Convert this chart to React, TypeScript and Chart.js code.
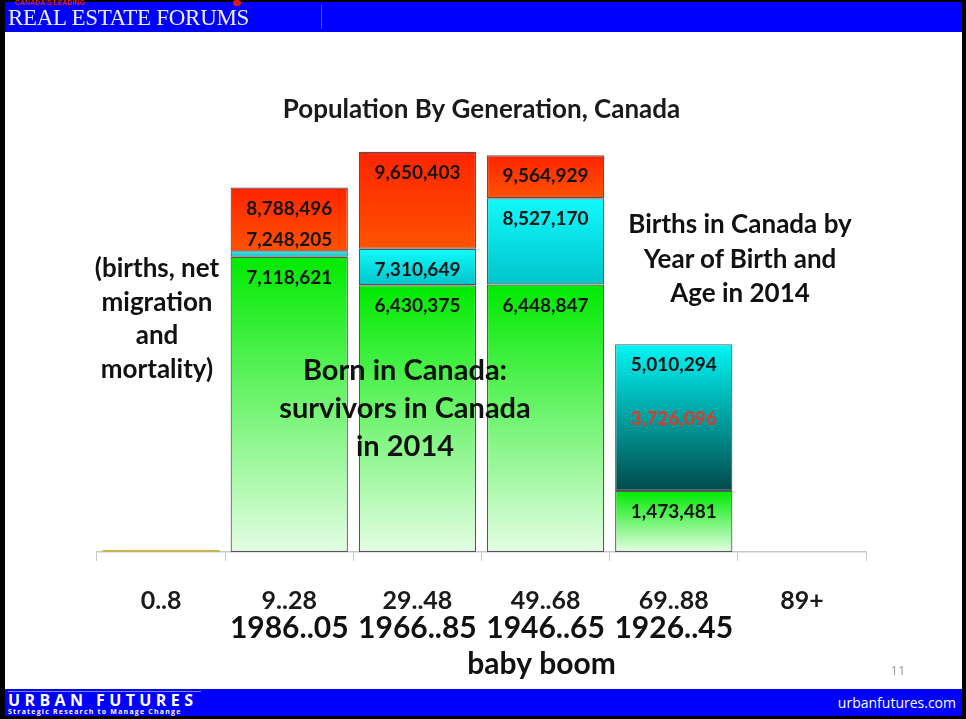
import React, { useEffect, useRef } from "react";
import { Chart, registerables } from "chart.js";

Chart.register(...registerables);

const categories = ["0..8", "9..28", "29..48", "49..68", "69..88", "89+"];
const birthYears = ["", "1986..05", "1966..85", "1946..65", "1926..45", ""];
const youngest = [50000, null, null, null, null, null];
const survivors = [null, 7118621, 6430375, 6448847, 1473481, null];
const population2014 = [null, 7248205, 7310649, 8527170, 5010294, null];
const births = [null, 8788496, 9650403, 9564929, 3726096, null];

const FONT = "Lato, 'Open Sans', sans-serif";

const cyanSeg = population2014.map((p, i) =>
  p == null || survivors[i] == null ? null : p - (survivors[i] as number)
);
const redSeg = births.map((b, i) => {
  const p = population2014[i];
  if (b == null || p == null) return null;
  return b > p ? b - p : null;
});

function segGradient(context: any, lowArr: (number | null)[], highArr: (number | null)[], top: string, bottom: string, fallback: string) {
  const chart = context.chart;
  const y = chart.scales && chart.scales.y;
  const i = context.dataIndex;
  if (!chart.chartArea || !y || i == null) return fallback;
  const lo = lowArr[i] ?? 0;
  const hi = highArr[i];
  if (hi == null) return fallback;
  const yTop = y.getPixelForValue(hi);
  const yBot = y.getPixelForValue(lo);
  if (!isFinite(yTop) || !isFinite(yBot) || yTop === yBot) return fallback;
  const g = chart.ctx.createLinearGradient(0, yTop, 0, yBot);
  g.addColorStop(0, top);
  g.addColorStop(1, bottom);
  return g;
}

const zeros = categories.map(() => 0);

const labelPlugin = {
  id: "segLabels",
  afterDatasetsDraw(chart: any) {
    const x = chart.scales.x;
    const y = chart.scales.y;
    const ctx = chart.ctx;
    ctx.save();
    ctx.font = `bold 19px ${FONT}`;
    ctx.textAlign = "center";
    ctx.textBaseline = "middle";
    categories.forEach((_, i) => {
      const items: { v: number; color: string }[] = [];
      const b = births[i], p = population2014[i], s = survivors[i];
      if (b != null) items.push({ v: b, color: p != null && b < p ? "#e0392a" : "#141414" });
      if (p != null) items.push({ v: p, color: "#141414" });
      if (s != null) items.push({ v: s, color: "#141414" });
      items.sort((a, c) => c.v - a.v);
      const pos: number[] = new Array(items.length);
      for (let k = items.length - 1; k >= 0; k--) {
        const py = y.getPixelForValue(items[k].v);
        let ty = py + 21;
        if (k < items.length - 1 && pos[k + 1] - ty < 22) ty = py - 11;
        pos[k] = ty;
      }
      const cx = x.getPixelForValue(i);
      items.forEach((it, k) => {
        ctx.fillStyle = it.color;
        ctx.fillText(it.v.toLocaleString("en-US"), cx, pos[k]);
      });
    });
    ctx.restore();
  },
  afterDraw(chart: any) {
    const x = chart.scales.x;
    const ctx = chart.ctx;
    const base = chart.chartArea.bottom;
    ctx.save();
    ctx.fillStyle = "#111";
    ctx.textAlign = "center";
    ctx.textBaseline = "middle";
    ctx.font = `bold 30px ${FONT}`;
    birthYears.forEach((t, i) => {
      if (t) ctx.fillText(t, x.getPixelForValue(i), base + 76);
    });
    ctx.fillText("baby boom", x.getPixelForValue(3) - 4, base + 112);
    ctx.restore();
  },
};

function ChartCanvas() {
  const ref = useRef<HTMLCanvasElement | null>(null);
  useEffect(() => {
    if (!ref.current) return;
    const chart = new Chart(ref.current, {
      type: "bar",
      data: {
        labels: categories,
        datasets: [
          {
            label: "Under 9",
            data: youngest,
            backgroundColor: "#c9b64a",
            borderWidth: 0,
            stack: "s",
          },
          {
            label: "Born in Canada: survivors in Canada in 2014",
            data: survivors,
            backgroundColor: (c: any) => segGradient(c, zeros, survivors, "#00ea00", "#e4fde4", "#40ee40"),
            borderColor: "#555555",
            borderWidth: 1.2,
            borderSkipped: false,
            stack: "s",
          },
          {
            label: "Population in 2014",
            data: cyanSeg,
            backgroundColor: (c: any) => {
              const i = c.dataIndex;
              const b = births[i], p = population2014[i];
              if (b != null && p != null && b < p)
                return segGradient(c, survivors, population2014, "#00f6f6", "#024a4a", "#0a9a9a");
              return segGradient(c, survivors, population2014, "#10fafa", "#00c4cc", "#00e6ec");
            },
            borderColor: "#555555",
            borderWidth: 1.2,
            borderSkipped: false,
            stack: "s",
          },
          {
            label: "Births",
            data: redSeg,
            backgroundColor: (c: any) => segGradient(c, population2014, births, "#ff2400", "#ff5200", "#ff3a00"),
            borderColor: "#555555",
            borderWidth: 1.2,
            borderSkipped: false,
            stack: "s",
          },
        ],
      },
      options: {
        responsive: false,
        animation: false,
        devicePixelRatio: 1,
        layout: { padding: { left: 97, right: 100, top: 78, bottom: 78 } },
        datasets: { bar: { categoryPercentage: 1, barPercentage: 0.915 } },
        plugins: {
          legend: { display: false },
          tooltip: { enabled: false },
          title: {
            display: true,
            text: "Population By Generation, Canada",
            color: "#1a1a1a",
            font: { family: FONT, size: 26, weight: "bold" },
            padding: { top: 16, bottom: 12 },
          },
        },
        scales: {
          x: {
            stacked: true,
            grid: {
              display: true,
              drawOnChartArea: false,
              drawTicks: true,
              tickLength: 9,
              color: "#c8c8c8",
              offset: true,
            },
            border: { display: true, color: "#c8c8c8", width: 1.5 },
            ticks: {
              color: "#1a1a1a",
              padding: 25,
              font: { family: FONT, size: 25, weight: "bold" },
            },
          },
          y: {
            stacked: true,
            display: false,
            min: 0,
            max: 10000000,
          },
        },
      },
      plugins: [labelPlugin],
    });
    return () => chart.destroy();
  }, []);
  return <canvas ref={ref} width={966} height={719} style={{ position: "absolute", left: 0, top: 0 }} />;
}

const textBlock = (left: number, top: number, width: number, size: number, lh: number): React.CSSProperties => ({
  position: "absolute",
  left,
  top,
  width,
  textAlign: "center",
  fontFamily: FONT,
  fontWeight: 700,
  fontSize: size,
  lineHeight: `${lh}px`,
  color: "#111",
  whiteSpace: "nowrap",
});

export default function App() {
  useEffect(() => {
    document.body.style.margin = "0";
  }, []);
  return (
    <div
      style={{
        position: "fixed",
        left: 0,
        top: 0,
        width: 966,
        height: 719,
        background: "#000",
        overflow: "hidden",
      }}
    >
      <div style={{ position: "absolute", left: 5, top: 2, right: 4, bottom: 3, background: "#fff" }} />
      <ChartCanvas />
      {/* header */}
      <div style={{ position: "absolute", left: 5, top: 2, right: 4, height: 30, background: "#0000ff" }}>
        <div style={{ position: "absolute", left: 10, top: -3, fontSize: 7, fontWeight: 700, color: "#e02020", fontFamily: "Liberation Sans, sans-serif" }}>
          CANADA'S LEADING
        </div>
        <div style={{ position: "absolute", left: 228, top: -2, width: 8, height: 6, borderRadius: 3, background: "#e01818" }} />
        <div
          style={{
            position: "absolute",
            left: 3,
            top: 3,
            fontFamily: "'Liberation Serif', 'DejaVu Serif', serif",
            fontSize: 23,
            lineHeight: "26px",
            color: "#eeeeee",
            letterSpacing: -0.3,
          }}
        >
          REAL ESTATE FORUMS
        </div>
        <div style={{ position: "absolute", left: 316, top: 3, width: 1, height: 24, background: "#5a5ab0" }} />
      </div>
      {/* footer */}
      <div style={{ position: "absolute", left: 5, top: 689, right: 4, height: 27, background: "#0000ff" }}>
        <div style={{ position: "absolute", left: 3, top: 2, width: 193, height: 1, background: "#8080ff" }} />
        <div
          style={{
            position: "absolute",
            left: 3,
            top: 3,
            fontFamily: "'Open Sans', sans-serif",
            fontWeight: 700,
            fontSize: 16,
            lineHeight: "16px",
            letterSpacing: 4.4,
            color: "#fff",
          }}
        >
          URBAN FUTURES
        </div>
        <div
          style={{
            position: "absolute",
            left: 3,
            top: 18,
            fontFamily: "'Open Sans', sans-serif",
            fontWeight: 700,
            fontSize: 7,
            lineHeight: "9px",
            letterSpacing: 1.2,
            color: "#fff",
          }}
        >
          Strategic Research to Manage Change
        </div>
        <div
          style={{
            position: "absolute",
            right: 6,
            top: 5,
            fontFamily: "'Open Sans', sans-serif",
            fontSize: 14,
            lineHeight: "18px",
            color: "#fff",
          }}
        >
          urbanfutures.com
        </div>
      </div>
      <div style={{ position: "absolute", left: 886, top: 661, width: 24, textAlign: "center", fontFamily: "'Open Sans', sans-serif", fontSize: 13, color: "#9a9a9a" }}>
        11
      </div>
      {/* annotations */}
      <div style={textBlock(67, 251, 180, 26, 33.5)}>
        (births, net
        <br />
        migration
        <br />
        and
        <br />
        mortality)
      </div>
      <div style={textBlock(255, 350, 300, 29, 38)}>
        Born in Canada:
        <br />
        survivors in Canada
        <br />
        in 2014
      </div>
      <div style={textBlock(600, 206, 280, 26, 34.5)}>
        Births in Canada by
        <br />
        Year of Birth and
        <br />
        Age in 2014
      </div>
    </div>
  );
}
